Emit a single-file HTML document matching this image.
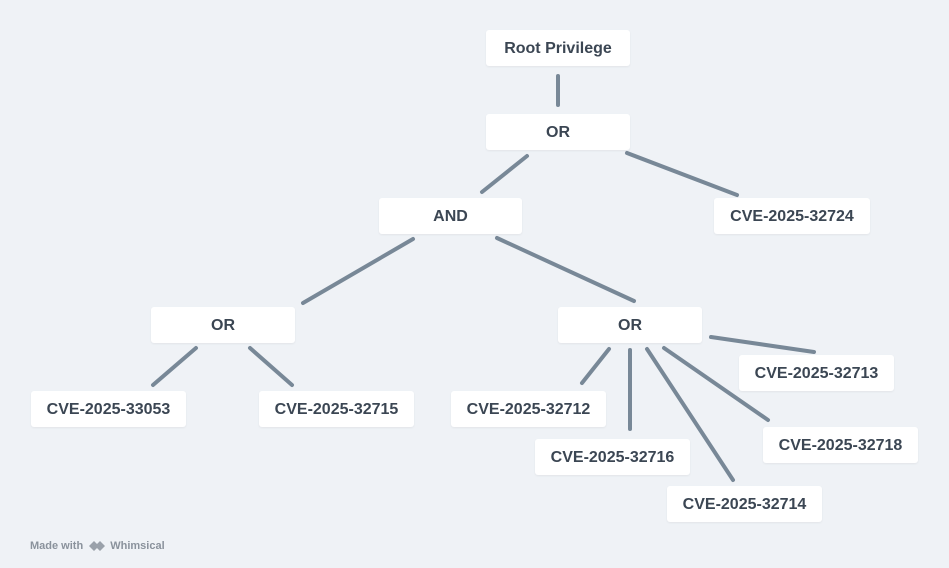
<!DOCTYPE html>
<html><head><style>
body{margin:0;width:949px;height:568px;background:#eff2f6;font-family:"Liberation Sans",sans-serif;position:relative;overflow:hidden}
.b{position:absolute;background:#fff;border-radius:3px;box-shadow:0 1px 2px rgba(0,0,0,.06);color:#3b4653;font-size:16px;font-weight:bold;display:flex;align-items:center;justify-content:center;height:36px;padding-top:1px;box-sizing:border-box}
svg{position:absolute;left:0;top:0}
.f{position:absolute;left:30px;top:540px;font-size:11px;font-weight:bold;color:#8a929c}
</style></head><body>
<svg width="949" height="568"><g stroke="#788897" stroke-width="4" stroke-linecap="round">
<line x1="558" y1="76" x2="558" y2="105"/>
<line x1="527" y1="156" x2="482" y2="192"/>
<line x1="627" y1="153" x2="737" y2="195"/>
<line x1="413" y1="239" x2="303" y2="303"/>
<line x1="497" y1="238" x2="634" y2="301"/>
<line x1="196" y1="348" x2="153" y2="385"/>
<line x1="250" y1="348" x2="292" y2="385"/>
<line x1="609" y1="349" x2="582" y2="383"/>
<line x1="630" y1="350" x2="630" y2="429"/>
<line x1="647" y1="349" x2="733" y2="480"/>
<line x1="664" y1="348" x2="768" y2="420"/>
<line x1="711" y1="337" x2="814" y2="352"/>
</g>
<path d="M89 546l5-5 5 5-5 5z M95 546l5-5 5 5-5 5z" fill="#9aa1aa"/>
</svg>
<div class="b" style="left:486px;top:30px;width:144px">Root Privilege</div>
<div class="b" style="left:486px;top:114px;width:144px">OR</div>
<div class="b" style="left:379px;top:198px;width:143px">AND</div>
<div class="b" style="left:714px;top:198px;width:156px">CVE-2025-32724</div>
<div class="b" style="left:151px;top:307px;width:144px">OR</div>
<div class="b" style="left:558px;top:307px;width:144px">OR</div>
<div class="b" style="left:31px;top:391px;width:155px">CVE-2025-33053</div>
<div class="b" style="left:259px;top:391px;width:155px">CVE-2025-32715</div>
<div class="b" style="left:451px;top:391px;width:155px">CVE-2025-32712</div>
<div class="b" style="left:535px;top:439px;width:155px">CVE-2025-32716</div>
<div class="b" style="left:667px;top:486px;width:155px">CVE-2025-32714</div>
<div class="b" style="left:763px;top:427px;width:155px">CVE-2025-32718</div>
<div class="b" style="left:739px;top:355px;width:155px">CVE-2025-32713</div>
<div class="f">Made with <span style="margin-left:24px">Whimsical</span></div>
</body></html>
